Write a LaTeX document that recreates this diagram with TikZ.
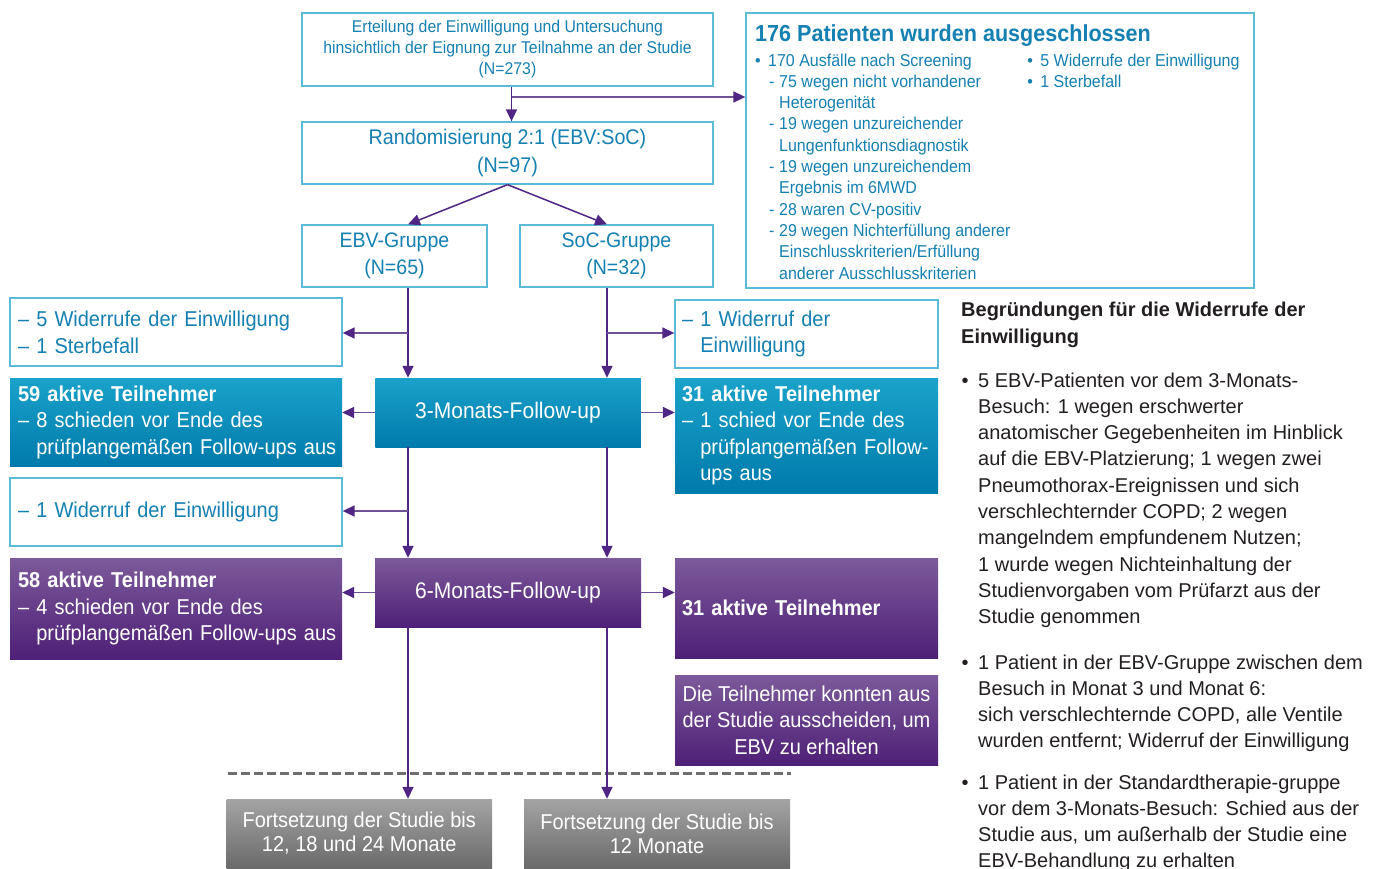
\documentclass[tikz,border=0pt]{standalone}
\usepackage{fontspec}
\setmainfont{Liberation Sans}[FakeStretch=0.93]
\newfontfamily\rtf{Liberation Sans}
\usetikzlibrary{arrows.meta}
\definecolor{tealtxt}{HTML}{1580B2}
\definecolor{tealbrd}{HTML}{5DBBDA}
\definecolor{tealT}{HTML}{1AA2CA}
\definecolor{tealB}{HTML}{007AAB}
\definecolor{purT}{HTML}{7C5A9A}
\definecolor{purB}{HTML}{4E1F77}
\definecolor{greyT}{HTML}{A4A4A4}
\definecolor{greyB}{HTML}{6A6A6A}
\definecolor{arrc}{HTML}{4F2683}
\definecolor{arrl}{HTML}{6F519A}
\definecolor{dtxt}{HTML}{231F20}
\definecolor{dashc}{HTML}{6E6E6E}
\newcommand\indl{\hphantom{– }}
\newcommand\fsz[2]{\fontsize{#1}{#2}\selectfont}
\newcommand\exb{•\hspace{7.4pt}}
\newcommand\exs{\hspace*{14pt}-\hspace{4.7pt}}
\newcommand\exc{\hspace*{24pt}}
\begin{document}
\begin{tikzpicture}[x=1pt,y=-1pt,
  wbox/.style={draw=tealbrd, line width=1.3pt, fill=white, text=tealtxt, inner sep=0pt},
  lbox/.style={align=left, inner xsep=8pt, inner ysep=0pt},
  tealbox/.style={top color=tealT, bottom color=tealB, text=white, inner sep=0pt},
  purbox/.style={top color=purT, bottom color=purB, text=white, inner sep=0pt},
  greybox/.style={top color=greyT, bottom color=greyB, text=white, inner sep=0pt, align=center},
  arr/.style={draw=arrc, line width=1.5pt, -{Triangle[length=12pt,width=11pt]}},
  harr/.style={draw=arrl, line width=1.6pt, -{Triangle[length=12pt,width=11pt,color=arrc]}},
  txt/.style={anchor=base west, inner sep=0pt}]
\fill[white] (0,0) rectangle (1380,868);
\useasboundingbox (0,0) rectangle (1380,868);

% top flow
\node[wbox, minimum width=411pt, minimum height=73pt, align=center, font=\fsz{17}{21}] (top) at (507.5,49.5)
  {Erteilung der Einwilligung und Untersuchung\\hinsichtlich der Eignung zur Teilnahme an der Studie\\(N=273)};
\node[wbox, minimum width=411pt, minimum height=62pt, align=center, font=\fsz{21.2}{28}] (rand) at (507.5,153)
  {Randomisierung 2:1 (EBV:SoC)\\(N=97)};
\node[wbox, minimum width=185pt, minimum height=62pt, align=center, font=\fsz{21}{27}] (ebv) at (394.5,256)
  {EBV-Gruppe\\(N=65)};
\node[wbox, minimum width=193pt, minimum height=62pt, align=center, font=\fsz{21}{27}] (soc) at (616.5,256)
  {SoC-Gruppe\\(N=32)};

% exclusion box
\node[wbox, minimum width=508pt, minimum height=275pt] (excl) at (1000,150.5) {};
\node[txt, text=tealtxt, font=\fsz{23.2}{26}\bfseries] (exT) at (755,41) {176 Patienten wurden ausgeschlossen};
\node[txt, text=tealtxt, font=\fsz{17.2}{21.3}] (exL) at (755,66) {\begin{tabular}[t]{@{}l@{}}
\exb 170 Ausfälle nach Screening\\
\exs 75 wegen nicht vorhandener\\
\exc Heterogenität\\
\exs 19 wegen unzureichender\\
\exc Lungenfunktionsdiagnostik\\
\exs 19 wegen unzureichendem\\
\exc Ergebnis im 6MWD\\
\exs 28 waren CV-positiv\\
\exs 29 wegen Nichterfüllung anderer\\
\exc Einschlusskriterien/Erfüllung\\
\exc anderer Ausschlusskriterien
\end{tabular}};
\node[txt, text=tealtxt, font=\fsz{17.2}{21.3}] (exR) at (1027.2,66) {\begin{tabular}[t]{@{}l@{}}
\exb 5 Widerrufe der Einwilligung\\
\exb 1 Sterbefall
\end{tabular}};

% side boxes
\node[wbox, lbox, text width=316pt, minimum height=68pt, font=\fsz{21.5}{26.7}] (ex1) at (176,332)
  {– 5 Widerrufe der Einwilligung\\– 1 Sterbefall};
\node[wbox, lbox, inner xsep=7pt, text width=249pt, minimum height=68pt, font=\fsz{21.5}{26.7}] (ex2) at (806.5,334)
  {– 1 Widerruf der\\\indl Einwilligung};
\node[tealbox, lbox, text width=316pt, minimum height=88pt, font=\fsz{21.5}{26.5}] (t59) at (176,422)
  {\textbf{59 aktive Teilnehmer}\\– 8 schieden vor Ende des\\\mbox{\indl prüfplangemäßen Follow-ups aus}};
\node[tealbox, lbox, inner xsep=7pt, text width=249pt, minimum height=115pt, font=\fsz{21.5}{26.5}] (t31) at (806.5,435.5)
  {\textbf{31 aktive Teilnehmer}\\– 1 schied vor Ende des\\\mbox{\indl prüfplangemäßen Follow-}\\\indl ups aus};
\node[wbox, lbox, text width=316pt, minimum height=68pt, font=\fsz{21.5}{26.7}] (ex3) at (176,512)
  {– 1 Widerruf der Einwilligung};
\node[purbox, lbox, text width=316pt, minimum height=101pt, font=\fsz{21.5}{26.5}] (p58) at (176,608.5)
  {\textbf{58 aktive Teilnehmer}\\– 4 schieden vor Ende des\\\mbox{\indl prüfplangemäßen Follow-ups aus}};
\node[purbox, lbox, inner xsep=7pt, text width=249pt, minimum height=100pt, font=\fsz{21.5}{26.5}] (p31) at (806.5,608)
  {\textbf{31 aktive Teilnehmer}};
\node[purbox, align=center, minimum width=263pt, minimum height=90pt, font=\fsz{21.5}{26.5}] (pdie) at (806.5,720)
  {Die Teilnehmer konnten aus\\der Studie ausscheiden, um\\EBV zu erhalten};

% follow-up boxes
\node[tealbox, align=center, minimum width=265.5pt, minimum height=69pt, font=\fsz{22.6}{26}] (m3) at (508,412.5) {3-Monats-Follow-up};
\node[purbox, align=center, minimum width=266pt, minimum height=69pt, font=\fsz{22.6}{26}] (m6) at (508,592.5) {6-Monats-Follow-up};

% bottom boxes
\node[greybox, minimum width=265.5pt, minimum height=69pt, font=\fsz{21.5}{24}] (g1) at (359.25,833.5) {Fortsetzung der Studie bis\\12, 18 und 24 Monate};
\node[greybox, minimum width=266pt, minimum height=69pt, font=\fsz{21.5}{24}] (g2) at (657,833.5) {Fortsetzung der Studie bis\\12 Monate};

% dashed separator
\coordinate (d1) at (228,773);
\coordinate (d2) at (791,773);
\draw[dashc, line width=3pt, dash pattern=on 9pt off 4pt] (d1) -- (d2);

% helper coordinates
\coordinate (cL) at (408,0);
\coordinate (cR) at (607,0);
\coordinate (b1) at (512,97);
\coordinate (j1) at (408,333);
\coordinate (j2) at (607,333);
\coordinate (j3) at (408,511);

% connectors
\draw[arr] ([xshift=4pt]top.south) -- ([xshift=4pt]rand.north);
\draw[harr] (b1) -- (b1 -| excl.west);
\draw[arr] (rand.south) -- (ebv.north -| cL);
\draw[arr] (rand.south) -- (soc.north -| cR);
\draw[arr] (ebv.south -| cL) -- (m3.north -| cL);
\draw[arr] (soc.south -| cR) -- (m3.north -| cR);
\draw[harr] (j1) -- (j1 -| ex1.east);
\draw[harr] (j2) -- (j2 -| ex2.west);
\draw[harr] (m3.west) -- (m3.west -| t59.east);
\draw[harr] (m3.east) -- (m3.east -| t31.west);
\draw[arr] (m3.south -| cL) -- (m6.north -| cL);
\draw[arr] (m3.south -| cR) -- (m6.north -| cR);
\draw[harr] (j3) -- (j3 -| ex3.east);
\draw[harr] (m6.west) -- (m6.west -| p58.east);
\draw[harr] (m6.east) -- (m6.east -| p31.west);
\draw[arr] (m6.south -| cL) -- (g1.north -| cL);
\draw[arr] (m6.south -| cR) -- (g2.north -| cR);

% right-hand notes
\node[txt, text=dtxt, font=\rtf\fsz{20}{27}\bfseries] (rh) at (961,316) {\begin{tabular}[t]{@{}l@{}}Begründungen für die Widerrufe der\\Einwilligung\end{tabular}};
\node[txt, text=dtxt, font=\rtf\fsz{20}{26.3}] (rb1) at (961.5,387) {\begin{tabular}[t]{@{}l@{\hspace{9.5pt}}l@{}}
•&5 EBV-Patienten vor dem 3-Monats-\\
&Besuch: 1 wegen erschwerter\\
&anatomischer Gegebenheiten im Hinblick\\
&auf die EBV-Platzierung; 1 wegen zwei\\
&Pneumothorax-Ereignissen und sich\\
&verschlechternder COPD; 2 wegen\\
&mangelndem empfundenem Nutzen;\\
&1 wurde wegen Nichteinhaltung der\\
&Studienvorgaben vom Prüfarzt aus der\\
&Studie genommen
\end{tabular}};
\node[txt, text=dtxt, font=\rtf\fsz{20}{26.3}] (rb2) at (961.5,669) {\begin{tabular}[t]{@{}l@{\hspace{9.5pt}}l@{}}
•&1 Patient in der EBV-Gruppe zwischen dem\\
&Besuch in Monat 3 und Monat 6:\\
&sich verschlechternde COPD, alle Ventile\\
&wurden entfernt; Widerruf der Einwilligung
\end{tabular}};
\node[txt, text=dtxt, font=\rtf\fsz{20}{26.3}] (rb3) at (961.5,789) {\begin{tabular}[t]{@{}l@{\hspace{9.5pt}}l@{}}
•&1 Patient in der Standardtherapie-gruppe\\
&vor dem 3-Monats-Besuch: Schied aus der\\
&Studie aus, um außerhalb der Studie eine\\
&EBV-Behandlung zu erhalten
\end{tabular}};
\end{tikzpicture}
\end{document}
